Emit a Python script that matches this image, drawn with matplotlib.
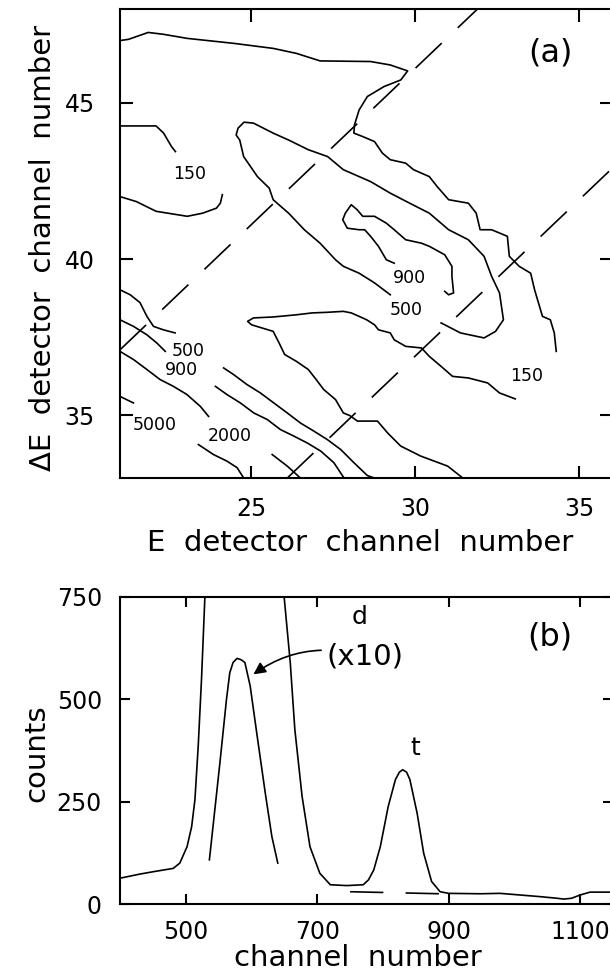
import matplotlib
matplotlib.use("Agg")
import matplotlib.pyplot as plt

plt.rcParams['font.family'] = ['DejaVu Sans']
plt.rcParams['lines.scale_dashes'] = False

# ---------------- panel (a): contour lines, E vs dE channel ----------------
# outer 150 contour (top edge, bend, then down to the lower right)
c150_outer_e = [21.0, 21.26, 21.86, 22.33, 23.05, 24.48, 25.67, 26.38, 27.10, 28.64, 29.24, 29.77,
                29.56, 29.05, 28.54, 28.29, 28.15, 28.13, 28.40, 28.76, 29.00, 29.24, 29.71, 29.95,
                30.43, 30.67, 31.02, 31.62, 31.86, 31.98, 32.33, 32.81, 32.87, 33.17, 33.52, 33.64,
                33.88, 34.12, 34.24, 34.30]
c150_outer_de = [46.99, 47.03, 47.25, 47.19, 47.06, 46.90, 46.74, 46.58, 46.34, 46.32, 46.21, 46.02,
                 45.73, 45.52, 45.20, 44.77, 44.30, 44.03, 43.92, 43.76, 43.39, 43.18, 43.07, 42.86,
                 42.64, 42.32, 41.90, 41.79, 41.47, 40.94, 40.94, 40.73, 40.09, 39.77, 39.55, 39.02,
                 38.17, 38.06, 37.64, 37.05]
c150_left_e = [21.0, 22.10, 22.33, 22.57, 22.69]
c150_left_de = [44.26, 44.26, 44.03, 43.60, 43.44]
c150_mid_e = [21.0, 21.5, 22.10, 23.05, 23.52, 23.94, 24.06, 24.12]
c150_mid_de = [42.00, 41.84, 41.53, 41.37, 41.47, 41.63, 41.79, 42.06]
c500_loop_e = [29.24, 28.76, 28.29, 27.81, 27.57, 27.10, 26.62, 26.14, 25.67, 25.55, 25.19, 24.77,
               24.65, 24.54, 24.60, 24.78, 25.07, 25.67, 26.14, 26.74, 27.33, 27.81, 28.64, 29.24,
               29.83, 30.43, 31.02, 31.62, 32.10, 32.33, 32.57, 32.69, 32.45, 32.10, 31.38, 30.79]
c500_loop_de = [38.86, 39.24, 39.55, 39.77, 39.98, 40.51, 40.94, 41.47, 41.90, 42.27, 42.64, 43.28,
                43.81, 43.97, 44.19, 44.38, 44.35, 44.03, 43.81, 43.50, 43.28, 42.86, 42.48, 42.11,
                41.79, 41.47, 40.94, 40.62, 40.09, 39.45, 38.92, 38.06, 37.69, 37.48, 37.64, 37.96]
c900_inner_e = [29.36, 29.12, 28.88, 28.64, 28.46, 28.29, 27.93, 27.79, 27.87, 28.05, 28.23, 28.40,
                28.76, 29.12, 29.36, 29.71, 30.19, 30.43, 30.90, 31.12, 31.12, 31.17, 31.02, 30.90]
c900_inner_de = [39.87, 39.98, 40.41, 40.73, 40.94, 40.94, 40.99, 41.26, 41.47, 41.74, 41.58, 41.37,
                 41.37, 41.15, 40.94, 40.62, 40.51, 40.41, 40.14, 39.77, 39.45, 38.92, 38.86, 38.97]
c150_low_e = [31.45, 30.99, 30.17, 29.56, 29.16, 28.85, 28.24, 28.0, 27.81, 27.57, 27.21, 26.98,
              26.74, 26.38, 26.02, 25.85, 25.67, 25.01, 24.89, 25.07, 25.67, 26.38, 26.86, 27.33,
              27.81, 28.05, 28.29, 28.52, 28.76, 28.88, 29.24, 29.36, 29.71, 30.19, 30.43, 30.79,
              31.14, 31.62, 32.21, 32.57, 33.05]
c150_low_de = [33.0, 33.38, 33.70, 34.02, 34.44, 34.82, 34.82, 35.0, 35.08, 35.51, 35.83, 36.15,
               36.47, 36.73, 36.95, 37.32, 37.69, 37.90, 38.01, 38.12, 38.15, 38.22, 38.28, 38.30,
               38.33, 38.28, 38.17, 38.06, 37.90, 37.74, 37.64, 37.42, 37.21, 37.16, 36.89, 36.57,
               36.25, 36.20, 36.04, 35.72, 35.53]
c500_left_e = [21.0, 21.31, 21.61, 21.82, 22.02, 22.32, 22.68]
c500_left_de = [39.02, 38.86, 38.61, 38.17, 37.85, 37.74, 37.64]
c500_low_e = [24.16, 24.46, 24.87, 25.28, 25.69, 26.10, 26.50, 26.91, 27.32, 27.73, 28.13, 28.54, 28.75]
c500_low_de = [36.52, 36.31, 35.99, 35.72, 35.40, 35.08, 34.76, 34.50, 34.23, 33.91, 33.49, 33.08, 33.0]
c900_left_e = [21.0, 21.41, 21.82, 22.12, 22.38]
c900_left_de = [38.06, 37.85, 37.58, 37.32, 37.05]
c900_low_e = [23.91, 24.26, 24.67, 25.08, 25.49, 25.89, 26.30, 26.71, 27.12, 27.52, 27.83]
c900_low_de = [35.93, 35.67, 35.40, 35.08, 34.87, 34.55, 34.34, 34.12, 33.86, 33.49, 33.0]
c2000_left_e = [21.0, 21.41, 21.82, 22.22, 22.63, 23.04, 23.45, 23.70]
c2000_left_de = [37.05, 36.79, 36.47, 36.15, 35.93, 35.67, 35.29, 34.97]
c2000_low_e = [25.64, 26.10, 26.50]
c2000_low_de = [33.75, 33.38, 33.0]
c5000_left_e = [21.0, 21.41]
c5000_left_de = [35.61, 35.40]
c5000_low_e = [23.39, 23.85, 24.26, 24.57, 24.77]
c5000_low_de = [34.07, 33.75, 33.54, 33.33, 33.0]

# contour level labels
level_text = ["150", "900", "500", "150", "500", "900", "5000", "2000"]
level_e = [23.13, 29.83, 29.71, 33.40, 23.08, 22.86, 22.07, 24.36]
level_de = [42.72, 39.40, 38.38, 36.25, 37.05, 36.45, 34.71, 34.34]

# dashed gate lines
gate_a_e = [21.0, 31.9]
gate_a_de = [37.1, 48.0]
gate_b_e = [26.1, 36.0]
gate_b_de = [33.0, 42.9]

# ---------------- panel (b): spectrum ----------------
spec_ch = [400, 430, 451, 481, 491, 502, 509, 514, 519, 524, 529, 536, 552, 567, 578, 590, 608,
           621, 631, 640, 650, 659, 666, 677, 689, 704, 720, 745, 770, 778, 786, 796, 808, 819,
           825, 830, 836, 841, 852, 862, 874, 887, 900, 948, 978, 1039, 1065, 1075, 1087, 1100,
           1115, 1150]
spec_counts = [63, 73, 79, 87, 100, 140, 189, 255, 386, 549, 745, 1080, 3450, 5650, 6000, 5900,
               4180, 2710, 1650, 1000, 745, 590, 426, 263, 140, 75, 47, 45, 47, 59, 83, 140, 238,
               304, 322, 328, 322, 304, 222, 124, 55, 30, 26, 25, 26, 18, 14, 12, 14, 22, 29, 29]
d_scaled_ch = [536, 552, 562, 567, 572, 578, 584, 590, 598, 608, 621, 631, 640]
d_scaled_counts = [108, 345, 500, 565, 590, 600, 597, 590, 533, 418, 271, 165, 100]
bg_ch = [750, 887]
bg_counts = [30, 25]


def style_axes(ax, tick_len, xpad, ypad):
    for sp in ax.spines.values():
        sp.set_linewidth(1.5)
    ax.tick_params(direction='in', top=True, right=True, length=tick_len, width=1.5,
                   labelsize=17)
    ax.tick_params(axis='x', pad=xpad)
    ax.tick_params(axis='y', pad=ypad)


fig = plt.figure(figsize=(6.1, 9.74), dpi=100)

# panel (a)
ax_a = fig.add_axes([120 / 610, 1 - 478 / 974, 492 / 610, 469 / 974])
segments = [(c150_outer_e, c150_outer_de), (c150_left_e, c150_left_de),
            (c150_mid_e, c150_mid_de), (c500_loop_e, c500_loop_de),
            (c900_inner_e, c900_inner_de), (c150_low_e, c150_low_de),
            (c500_left_e, c500_left_de), (c500_low_e, c500_low_de),
            (c900_left_e, c900_left_de), (c900_low_e, c900_low_de),
            (c2000_left_e, c2000_left_de), (c2000_low_e, c2000_low_de),
            (c5000_left_e, c5000_left_de), (c5000_low_e, c5000_low_de)]
for xs, ys in segments:
    ax_a.plot(xs, ys, color='black', lw=1.2)
for xs, ys in [(gate_a_e, gate_a_de), (gate_b_e, gate_b_de)]:
    ax_a.plot(xs, ys, color='black', lw=1.2, dashes=(26, 16))
for txt, x, y in zip(level_text, level_e, level_de):
    ax_a.text(x, y, txt, fontsize=12.5, ha='center', va='center')

ax_a.set_xlim(21, 36)
ax_a.set_ylim(33, 48)
ax_a.set_xticks([25, 30, 35])
ax_a.set_yticks([35, 40, 45])
style_axes(ax_a, 9, 13.5, 18)
ax_a.text(0.874, 0.906, '(a)', transform=ax_a.transAxes, fontsize=23, ha='center', va='center')
ax_a.set_xlabel('E  detector  channel  number', fontsize=21)
ax_a.xaxis.set_label_coords(0.488, -0.109)
ax_a.set_ylabel('\u0394E  detector  channel  number', fontsize=21)
ax_a.yaxis.set_label_coords(-0.128, 0.49)

# panel (b)
ax_b = fig.add_axes([120 / 610, 1 - 904 / 974, 493 / 610, 307 / 974])
ax_b.plot(spec_ch, spec_counts, color='black', lw=1.2)
ax_b.plot(d_scaled_ch, d_scaled_counts, color='black', lw=1.2)
ax_b.plot(bg_ch, bg_counts, color='black', lw=1.2, dashes=(24, 16))
ax_b.set_xlim(400, 1150)
ax_b.set_ylim(0, 750)
ax_b.set_xticks([500, 700, 900, 1100])
ax_b.set_yticks([0, 250, 500, 750])
style_axes(ax_b, 7, 11.5, 13)

ax_b.text(765, 701, 'd', fontsize=18, ha='center', va='center')
ax_b.text(849, 380, 't', fontsize=18, ha='center', va='center')
ax_b.annotate('(x10)', xy=(603, 561), xytext=(773, 604), fontsize=21,
              ha='center', va='center',
              arrowprops=dict(arrowstyle='-|>', color='black', lw=1.2,
                              mutation_scale=18, connectionstyle='arc3,rad=0.25',
                              shrinkA=2, shrinkB=0))
ax_b.text(0.872, 0.870, '(b)', transform=ax_b.transAxes, fontsize=23, ha='center', va='center')
ax_b.set_xlabel('channel  number', fontsize=21)
ax_b.xaxis.set_label_coords(0.483, -0.131)
ax_b.set_ylabel('counts', fontsize=21)
ax_b.yaxis.set_label_coords(-0.142, 0.49)

fig.savefig('out.png', dpi=100)
